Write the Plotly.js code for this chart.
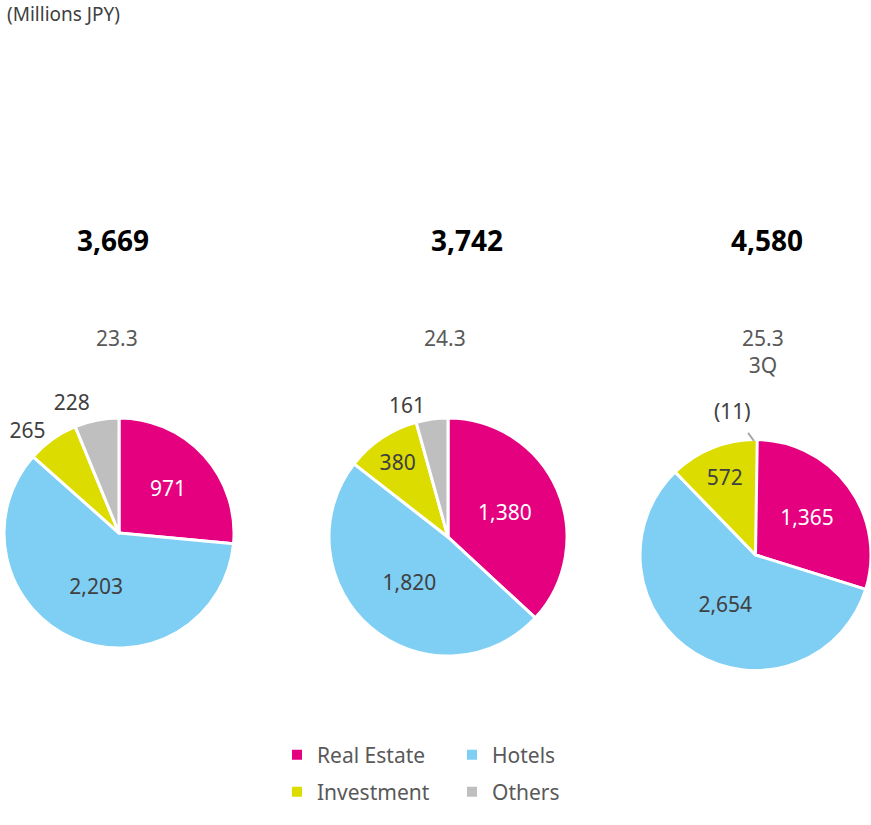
<!DOCTYPE html>
<html>
<head>
<meta charset="utf-8">
<script src="https://cdn.plot.ly/plotly-3.0.1.min.js"></script>
<style>html,body{margin:0;padding:0;background:#fff;}#chart{width:871px;height:825px;}
#chart path.textline{display:none;}</style>
</head>
<body>
<div id="chart"></div>
<script>
// ---- data ----
const segments = ["Real Estate", "Hotels", "Investment", "Others"];
const periods = ["23.3", "24.3", "25.3<br>3Q"];
const totals = [3669, 3742, 4580];
const values233 = [971, 2203, 265, 228];
const values243 = [1380, 1820, 380, 161];
const values253 = [1365, 2654, 572, -11];
const unitLabel = "(Millions JPY)";

// ---- style ----
const FONT = "Noto Sans, sans-serif";
const colors = ["#E4007F", "#7FCEF4", "#DCDC00", "#BFBFBF"];
const textColors = ["#FFFFFF", "#404040", "#404040", "#404040"];

const domains = [
  {x: [0.0046, 0.2687], y: [0.2145, 0.4933]},
  {x: [0.3777, 0.6510], y: [0.2048, 0.4933]},
  {x: [0.7348, 1.0], y: [0.1867, 0.4679]}
];
const textpos = [
  ["inside", "inside", "outside", "outside"],
  ["inside", "inside", "inside", "outside"],
  ["inside", "inside", "inside", "outside"]
];
const allValues = [values233, values243, values253];

const fmt = v => v < 0 ? "(" + Math.abs(v).toLocaleString("en-US") + ")" : v.toLocaleString("en-US");

const traces = allValues.map((vals, i) => ({
  type: "pie",
  labels: segments,
  values: vals,
  sort: false,
  direction: "clockwise",
  rotation: 0,
  domain: domains[i],
  marker: {colors: colors, line: {color: "#FFFFFF", width: 3}},
  text: vals.map(fmt),
  textinfo: "text",
  textposition: textpos[i],
  insidetextorientation: "horizontal",
  textfont: {family: FONT, size: 21, color: textColors},
  outsidetextfont: {family: FONT, size: 21, color: "#404040"},
  showlegend: false,
  hoverinfo: "label+value"
}));

// legend-only entries: two rows of two
const legendRows = ["legend", "legend", "legend2", "legend2"];
segments.forEach((s, k) => {
  traces.push({
    type: "scatter", mode: "markers", x: [null], y: [null],
    name: s, legend: legendRows[k],
    marker: {symbol: "square", size: 10, color: colors[k]},
    hoverinfo: "skip"
  });
});

const annotations = [];
const centersX = [0.130, 0.536, 0.881];
const subX = [0.134, 0.511, 0.876];
totals.forEach((t, i) => {
  annotations.push({
    xref: "paper", yref: "paper", x: centersX[i], y: 1 - 240/825,
    text: "<b>" + t.toLocaleString("en-US") + "</b>", showarrow: false,
    font: {family: FONT, size: 28, color: "#000000"}, xanchor: "center", yanchor: "middle"
  });
  annotations.push({
    xref: "paper", yref: "paper", x: subX[i], y: 1 - 322/825,
    text: periods[i], showarrow: false,
    font: {family: FONT, size: 21, color: "#595959"}, xanchor: "center", yanchor: "top"
  });
});
annotations.push({
  xref: "paper", yref: "paper", x: 0.006, y: 1 - 14/825,
  text: unitLabel, showarrow: false,
  font: {family: FONT, size: 19, color: "#404040"}, xanchor: "left", yanchor: "middle"
});
// negative "Others" value in last pie
annotations.push({
  xref: "paper", yref: "paper", x: 754/871, y: 1 - 441/825,
  text: fmt(values253[3]), showarrow: true, arrowhead: 0, arrowwidth: 2,
  arrowcolor: "#A6A6A6", ax: -22, ay: -30, standoff: 0, startstandoff: 8,
  font: {family: FONT, size: 21, color: "#404040"}
});

const legendBase = {
  orientation: "h", x: 277/871, xanchor: "left", yanchor: "middle",
  font: {family: FONT, size: 21, color: "#595959"},
  itemwidth: 30, entrywidthmode: "pixels", entrywidth: 130,
  bgcolor: "rgba(0,0,0,0)"
};

const layout = {
  width: 871, height: 825,
  margin: {l: 0, r: 0, t: 0, b: 0},
  paper_bgcolor: "#FFFFFF", plot_bgcolor: "#FFFFFF",
  xaxis: {visible: false}, yaxis: {visible: false},
  showlegend: true,
  legend: Object.assign({}, legendBase, {y: 1 - 755/825}),
  legend2: Object.assign({}, legendBase, {y: 1 - 792/825}),
  annotations: annotations
};

Plotly.newPlot("chart", traces, layout, {displayModeBar: false, staticPlot: true});
</script>
</body>
</html>
